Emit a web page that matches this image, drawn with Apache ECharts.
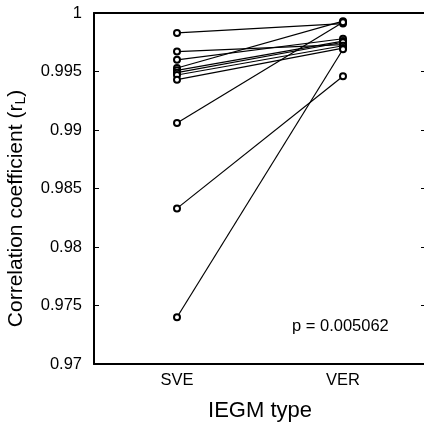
<!DOCTYPE html>
<html>
<head>
<meta charset="utf-8">
<script src="https://cdn.jsdelivr.net/npm/echarts@6/dist/echarts.min.js"></script>
<style>
  html, body { margin: 0; padding: 0; background: #fff; }
  #chart { width: 424px; height: 423px; }
</style>
</head>
<body>
<div id="chart"></div>
<script>
// categories on the x axis
const categories = ["SVE", "VER"];
// paired values, index i in sveValues belongs to index i in verValues
const sveValues = [0.9983, 0.9967, 0.9960, 0.9953, 0.9951, 0.9949, 0.9947, 0.9943, 0.9906, 0.9833, 0.9740];
const verValues = [0.9991, 0.9973, 0.9978, 0.9993, 0.9976, 0.9975, 0.9972, 0.9970, 0.9992, 0.9946, 0.9969];
const yTicks = [0.97, 0.975, 0.98, 0.985, 0.99, 0.995, 1];
const pLabel = "p = 0.005062";

const font = "Liberation Sans";
const lineW = 2;

let chart = echarts.init(document.getElementById("chart"));

let series = sveValues.map((v, i) => ({
  type: "line",
  data: [v, verValues[i]],
  symbol: "emptyCircle",
  symbolSize: 6,
  silent: true,
  animation: false,
  lineStyle: { color: "#000", width: 1.2 },
  itemStyle: { color: "#000", borderWidth: 1.2 }
}));

chart.setOption({
  animation: false,
  grid: { left: 94, top: 13, width: 332, height: 351, outerBoundsMode: "none", containLabel: false },
  xAxis: [{
    type: "category",
    data: categories,
    boundaryGap: true,
    name: "IEGM type",
    nameLocation: "middle",
    nameGap: 36,
    nameTextStyle: { fontFamily: font, fontSize: 22, color: "#000" },
    axisLine: { lineStyle: { color: "#000", width: lineW } },
    axisTick: { alignWithLabel: true, inside: true, length: 5, lineStyle: { color: "#000" } },
    axisLabel: { fontFamily: font, fontSize: 16.5, color: "#000", margin: 8 },
    splitLine: { show: false }
  }, {
    type: "category",
    data: categories,
    position: "top",
    boundaryGap: true,
    axisLine: { lineStyle: { color: "#000", width: lineW } },
    axisTick: { alignWithLabel: true, inside: true, length: 5, lineStyle: { color: "#000" } },
    axisLabel: { show: false }
  }],
  yAxis: [{
    type: "value",
    min: 0.97,
    max: 1,
    interval: 0.005,
    name: "Correlation coefficient (r{sub|L})",
    nameLocation: "middle",
    nameGap: 66,
    nameTextStyle: {
      fontFamily: font, fontSize: 21, color: "#000",
      padding: [0, 40, 0, 0],
      rich: { sub: { fontFamily: font, fontSize: 14, color: "#000", verticalAlign: "bottom", padding: [10, 0, 0, 0] } }
    },
    axisLine: { show: true, lineStyle: { color: "#000", width: lineW } },
    axisTick: { show: true, inside: true, length: 5, lineStyle: { color: "#000" } },
    axisLabel: {
      fontFamily: font, fontSize: 16.5, color: "#000", margin: 12,
      formatter: v => {
        let t = yTicks.find(k => Math.abs(k - v) < 1e-9);
        return t === undefined ? "" : String(+t.toFixed(3));
      }
    },
    splitLine: { show: false }
  }, {
    type: "value",
    min: 0.97,
    max: 1,
    interval: 0.005,
    position: "right",
    axisLine: { show: true, lineStyle: { color: "#000", width: lineW } },
    axisTick: { show: true, inside: true, length: 5, lineStyle: { color: "#000" } },
    axisLabel: { show: false },
    splitLine: { show: false }
  }],
  graphic: [{
    type: "text",
    left: 292,
    top: 318,
    style: { text: pLabel, fontFamily: font, fontSize: 16.5, fill: "#000" }
  }],
  series: series
});
</script>
</body>
</html>
